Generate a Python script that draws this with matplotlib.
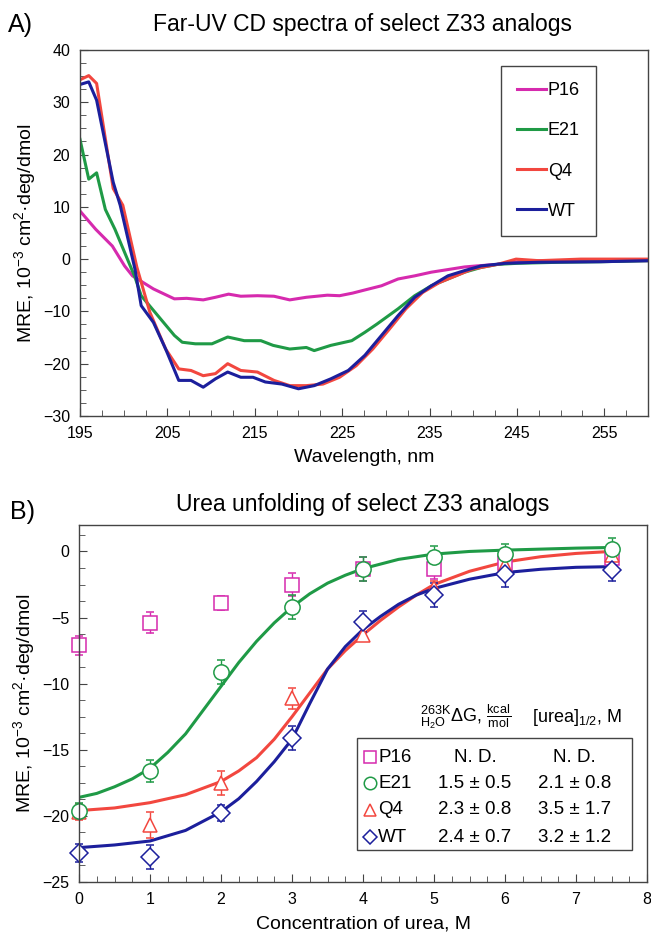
import numpy as np
import matplotlib
matplotlib.use('Agg')
import matplotlib.pyplot as plt
from matplotlib.patches import Rectangle

plt.rcParams['font.family'] = ['Liberation Sans', 'DejaVu Sans']
plt.rcParams['mathtext.fontset'] = 'custom'
plt.rcParams['mathtext.rm'] = 'Liberation Sans'
plt.rcParams['mathtext.it'] = 'Liberation Sans:italic'
plt.rcParams['mathtext.bf'] = 'Liberation Sans:bold'

# ---- Panel A: far-UV CD spectra ----
p16_wl = [195.0, 196.8, 198.7, 200.1, 201.0, 203.4, 205.8, 207.2, 209.1, 210.5, 212.0, 213.4,
          215.3, 217.2, 219.0, 220.9, 223.3, 224.7, 226.2, 227.6, 229.5, 231.4, 233.3, 235.2,
          237.1, 239.0, 240.4, 242.8, 245.1, 247.5, 252.3, 260.0]
p16_mre = [9.2, 5.7, 2.5, -1.3, -3.2, -5.7, -7.6, -7.5, -7.8, -7.3, -6.7, -7.1,
           -7.0, -7.1, -7.8, -7.3, -6.9, -7.0, -6.5, -5.9, -5.1, -3.8, -3.2, -2.5,
           -2.0, -1.5, -1.3, -1.0, -0.5, -0.3, -0.3, -0.3]

e21_wl = [195.0, 196.0, 196.9, 197.9, 199.0, 200.1, 201.3, 202.0, 203.9, 205.8, 206.7, 208.2,
          210.1, 211.9, 213.8, 215.7, 217.1, 219.0, 220.9, 221.8, 223.7, 226.1, 227.6, 229.0,
          231.4, 233.3, 235.2, 237.1, 239.0, 240.9, 242.8, 245.1, 249.9, 254.6, 260.0]
e21_mre = [22.9, 15.3, 16.5, 9.5, 5.7, 1.3, -3.5, -7.0, -10.8, -14.6, -15.9, -16.2,
           -16.2, -14.9, -15.6, -15.6, -16.5, -17.2, -16.9, -17.5, -16.5, -15.6, -14.0, -12.4,
           -9.5, -7.0, -5.1, -3.8, -2.5, -1.6, -1.0, -0.8, -0.6, -0.5, -0.3]

q4_wl = [195.0, 196.0, 196.9, 198.8, 199.9, 201.5, 203.0, 204.8, 206.3, 207.7, 209.1, 210.5,
         211.9, 213.4, 215.3, 217.2, 219.0, 220.9, 222.8, 224.7, 226.6, 228.5, 230.4, 232.3,
         234.2, 236.1, 238.0, 239.9, 242.8, 244.9, 247.5, 252.3, 260.0]
q4_mre = [34.3, 35.1, 33.6, 13.5, 10.3, -1.5, -10.2, -17.2, -21.0, -21.3, -22.3, -21.9,
          -20.0, -21.3, -21.6, -23.2, -24.2, -24.2, -23.9, -22.6, -20.4, -17.2, -13.4, -9.5,
          -6.4, -4.5, -3.2, -1.9, -1.0, 0.0, -0.3, 0.0, 0.0]

wt_wl = [195.0, 196.0, 196.9, 198.8, 199.6, 201.3, 202.0, 203.4, 204.8, 206.3, 207.7, 209.1,
         210.5, 211.9, 213.4, 214.8, 216.2, 218.1, 220.0, 221.8, 223.7, 225.7, 227.6, 229.5,
         231.4, 233.3, 235.2, 237.1, 239.0, 240.9, 243.7, 247.5, 254.6, 260.0]
wt_mre = [33.4, 33.9, 30.4, 14.7, 10.3, -2.0, -8.9, -12.1, -17.2, -23.2, -23.2, -24.5,
          -22.9, -21.6, -22.6, -22.6, -23.5, -23.9, -24.8, -24.2, -22.9, -21.3, -18.4, -14.6,
          -10.8, -7.3, -5.1, -3.2, -2.2, -1.3, -0.8, -0.6, -0.5, -0.3]

# ---- Panel B: urea unfolding ----
urea = [0, 1, 2, 3, 4, 5, 6, 7.5]
p16_pts = [-7.1, -5.4, -3.9, -2.5, -1.3, -1.3, -0.9, -0.5]
p16_err = [0.7, 0.8, 0.5, 0.9, 0.9, 0.8, 0.8, 0.8]
e21_pts = [-19.6, -16.6, -9.1, -4.2, -1.3, -0.4, -0.2, 0.2]
e21_err = [0.6, 0.8, 0.9, 0.9, 0.9, 0.8, 0.8, 0.8]
q4_pts = [-19.7, -20.7, -17.5, -11.1, -6.3, -2.8, -1.0, -0.3]
q4_err = [0.6, 1.0, 0.9, 0.8, 0.5, 0.6, 0.6, 0.6]
wt_pts = [-22.8, -23.1, -19.8, -14.1, -5.3, -3.3, -1.7, -1.4]
wt_err = [0.7, 0.9, 0.6, 0.9, 0.8, 0.9, 1.0, 0.8]

# fitted curves
e21_fx = [0, 0.25, 0.5, 0.75, 1, 1.25, 1.5, 1.75, 2, 2.25, 2.5, 2.75, 3, 3.25, 3.5, 3.75,
          4, 4.5, 5, 5.5, 6, 7, 7.5]
e21_fit = [-18.6, -18.3, -17.8, -17.2, -16.4, -15.2, -13.8, -12.0, -10.2, -8.4, -6.8, -5.4,
           -4.2, -3.2, -2.4, -1.8, -1.3, -0.6, -0.2, 0.0, 0.1, 0.25, 0.3]
q4_fx = [0, 0.5, 1, 1.5, 2, 2.25, 2.5, 2.75, 3, 3.25, 3.5, 3.75, 4, 4.25, 4.5, 4.75,
         5, 5.5, 6, 6.5, 7, 7.5]
q4_fit = [-19.6, -19.4, -19.0, -18.4, -17.4, -16.6, -15.6, -14.2, -12.5, -10.7, -8.9, -7.5,
          -6.3, -5.2, -4.2, -3.3, -2.5, -1.5, -0.8, -0.4, -0.15, 0.0]
wt_fx = [0, 0.5, 1, 1.5, 2, 2.25, 2.5, 2.75, 3, 3.25, 3.5, 3.75, 4, 4.25, 4.5, 4.75,
         5, 5.5, 6, 6.5, 7, 7.5]
wt_fit = [-22.4, -22.2, -21.9, -21.1, -19.7, -18.7, -17.4, -15.9, -14.2, -11.5, -8.9, -7.2,
          -5.9, -4.9, -4.0, -3.3, -2.8, -2.1, -1.6, -1.35, -1.2, -1.15]

names = ['P16', 'E21', 'Q4', 'WT']
dG = ['N. D.', '1.5 \u00b1 0.5', '2.3 \u00b1 0.8', '2.4 \u00b1 0.7']
half = ['N. D.', '2.1 \u00b1 0.8', '3.5 \u00b1 1.7', '3.2 \u00b1 1.2']

c_mag = '#d62aae'
c_grn = '#1f9a46'
c_red = '#f2473f'
c_blu = '#1c1f9c'
spine_c = '#444444'

fig = plt.figure(figsize=(6.51, 9.36), dpi=100)
axA = fig.add_axes([0.1229, 0.5556, 0.8725, 0.391])
axB = fig.add_axes([0.1214, 0.0577, 0.8725, 0.3814])

lw = 2.2
axA.plot(p16_wl, p16_mre, color=c_mag, lw=lw, label='P16')
axA.plot(e21_wl, e21_mre, color=c_grn, lw=lw, label='E21')
axA.plot(q4_wl, q4_mre, color=c_red, lw=lw, label='Q4')
axA.plot(wt_wl, wt_mre, color=c_blu, lw=lw, label='WT')
axA.set_xlim(195, 260)
axA.set_ylim(-30, 40)
axA.set_xticks(np.arange(195, 260, 10))
axA.set_xticks(np.arange(195, 260.1, 2.5), minor=True)
axA.set_yticks(np.arange(-30, 41, 10))
axA.set_yticks(np.arange(-30, 40.1, 2.5), minor=True)
axA.set_xlabel('Wavelength, nm', fontsize=14, labelpad=6)
axA.set_ylabel('MRE, 10$^{-3}$ cm$^{2}$\u00b7deg/dmol', fontsize=14, labelpad=4)
leg = axA.legend(loc='upper left', bbox_to_anchor=(0.741, 0.956), fontsize=13,
                 handlelength=1.6, handletextpad=0.1, labelspacing=1.28,
                 borderpad=0.9, borderaxespad=0, fancybox=False, framealpha=1)
leg.get_frame().set_edgecolor(spine_c)
leg.get_frame().set_linewidth(1.0)

# panel B
mk = dict(mfc='white', markersize=10, mew=1.1, capsize=3, elinewidth=1.0,
          capthick=1.0, linestyle='none', clip_on=False)
axB.plot(e21_fx, e21_fit, color=c_grn, lw=lw)
axB.plot(q4_fx, q4_fit, color=c_red, lw=lw)
axB.plot(wt_fx, wt_fit, color=c_blu, lw=lw)
axB.errorbar(urea, p16_pts, yerr=p16_err, marker='s', color=c_mag, mec=c_mag, **mk)
axB.errorbar(urea, q4_pts, yerr=q4_err, marker='^', color=c_red, mec=c_red, **mk)
axB.errorbar(urea, wt_pts, yerr=wt_err, marker='D', color=c_blu, mec=c_blu,
             **{**mk, 'markersize': 9})
axB.errorbar(urea, e21_pts, yerr=e21_err, marker='o', color=c_grn, mec=c_grn,
             **{**mk, 'markersize': 11})
axB.set_xlim(0, 8)
axB.set_ylim(-25, 2)
axB.set_xticks(range(0, 9))
axB.set_xticks(np.arange(0, 8.01, 0.25), minor=True)
axB.set_yticks(range(-25, 1, 5))
axB.set_yticks(np.arange(-25, 2.1, 1.25), minor=True)
axB.set_xlabel('Concentration of urea, M', fontsize=14, labelpad=6)
axB.set_ylabel('MRE, 10$^{-3}$ cm$^{2}$\u00b7deg/dmol', fontsize=14, labelpad=4)

for ax in (axA, axB):
    for s in ax.spines.values():
        s.set_color(spine_c)
        s.set_linewidth(1.0)
    ax.tick_params(which='both', direction='in', top=False, right=False,
                   labelsize=11.5, color=spine_c, pad=7)
    ax.tick_params(which='major', length=6)
    ax.tick_params(which='minor', length=4)

# table inside panel B
axB.add_patch(Rectangle((0.489, 0.0896), 0.485, 0.313, transform=axB.transAxes,
                        fill=True, facecolor='white', edgecolor=spine_c, lw=1.0, zorder=5))
row_y = [0.350, 0.277, 0.202, 0.126]
row_mk = [('s', c_mag, 8), ('o', c_grn, 9), ('^', c_red, 9), ('D', c_blu, 7)]
for i in range(4):
    m, c, ms = row_mk[i]
    axB.plot([0.512], [row_y[i]], marker=m, color=c, mfc='white', mew=1.1,
             markersize=ms, transform=axB.transAxes, zorder=6, clip_on=False)
    axB.text(0.527, row_y[i], names[i], transform=axB.transAxes, fontsize=13.5,
             va='center', ha='left', zorder=6)
    axB.text(0.697, row_y[i], dG[i], transform=axB.transAxes, fontsize=13.5,
             va='center', ha='center', zorder=6)
    axB.text(0.872, row_y[i], half[i], transform=axB.transAxes, fontsize=13.5,
             va='center', ha='center', zorder=6)
axB.text(0.680, 0.462, r'$^{263\mathrm{K}}_{\mathrm{H_2O}}\Delta\mathrm{G},\,\frac{\mathrm{kcal}}{\mathrm{mol}}$',
         transform=axB.transAxes, fontsize=13, va='center', ha='center')
axB.text(0.877, 0.462, r'[urea]$_{1/2}$, M', transform=axB.transAxes, fontsize=13,
         va='center', ha='center')

# titles and panel letters
fig.text(0.557, 1 - 25 / 936, 'Far-UV CD spectra of select Z33 analogs', fontsize=16.5,
         ha='center', va='center')
fig.text(0.012, 1 - 25 / 936, 'A)', fontsize=18, ha='left', va='center')
fig.text(0.557, 1 - 505 / 936, 'Urea unfolding of select Z33 analogs', fontsize=16.5,
         ha='center', va='center')
fig.text(0.015, 1 - 512 / 936, 'B)', fontsize=18, ha='left', va='center')

fig.savefig('out.png', dpi=100)
